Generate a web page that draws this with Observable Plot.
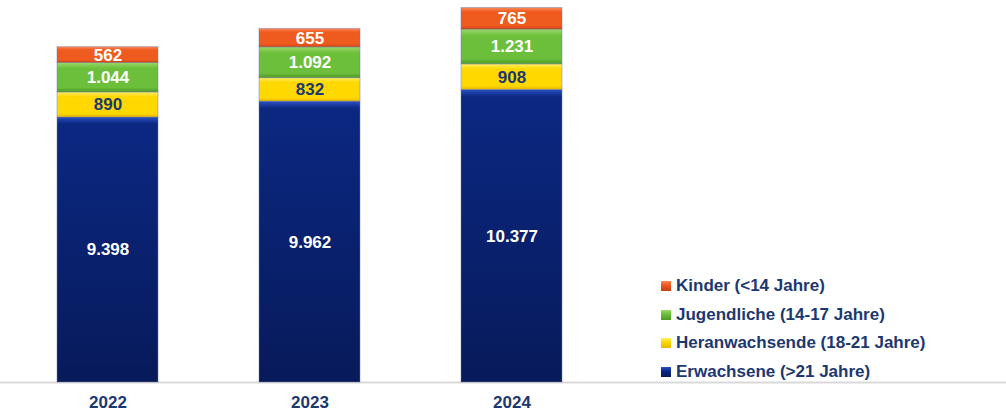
<!DOCTYPE html>
<html>
<head>
<meta charset="utf-8">
<script src="https://cdn.jsdelivr.net/npm/d3@7"></script>
<script src="https://cdn.jsdelivr.net/npm/@observablehq/plot@0.6"></script>
<style>
  html, body { margin: 0; padding: 0; background: #fff; }
  #wrap { position: relative; width: 1006px; height: 414px; font-family: "Liberation Sans", Arial, sans-serif; }
  #legend { position: absolute; left: 661px; top: 272px; color: #1c3870; font-weight: bold; font-size: 17px; }
  #legend .item { display: flex; align-items: center; height: 28.5px; white-space: nowrap; }
  #legend .sw { width: 10px; height: 10px; margin-right: 5px; box-sizing: border-box; }
</style>
</head>
<body>
<div id="wrap"><div id="legend"></div></div>
<script>
const years = ["2022", "2023", "2024"];
const seriesNames = ["Erwachsene (>21 Jahre)", "Heranwachsende (18-21 Jahre)", "Jugendliche (14-17 Jahre)", "Kinder (<14 Jahre)"];
const erwachsene = [9398, 9962, 10377];
const heranwachsende = [890, 832, 908];
const jugendliche = [1044, 1092, 1231];
const kinder = [562, 655, 765];
const seriesValues = [erwachsene, heranwachsende, jugendliche, kinder];
const seriesKeys = ["erw", "her", "jug", "kin"];
const gradStops = [
  ["#2a52c4", "#0b2882", "#071a5a"],
  ["#fff06a", "#ffd800", "#e8b800"],
  ["#9ad86a", "#6cbf3a", "#4e9a26"],
  ["#ff8a5a", "#ef5a1f", "#c9400f"]
];
const labelColors = ["#ffffff", "#1c3870", "#ffffff", "#ffffff"];

const data = [];
seriesNames.forEach((s, i) => {
  years.forEach((y, j) => {
    data.push({year: y, series: s, key: seriesKeys[i], value: seriesValues[i][j], fill: `url(#g-${seriesKeys[i]})`, label: labelColors[i]});
  });
});

const de = d3.formatLocale({decimal: ",", thousands: ".", grouping: [3], currency: ["", " €"]});
const fmt = de.format(",d");

const defs = () => {
  const d = d3.create("svg:defs");
  seriesKeys.forEach((k, i) => {
    const g = d.append("linearGradient").attr("id", `g-${k}`).attr("x1", 0).attr("y1", 0).attr("x2", 0).attr("y2", 1);
    const st = gradStops[i];
    if (k === "erw") {
      g.append("stop").attr("offset", 0).attr("stop-color", st[0]);
      g.append("stop").attr("offset", 0.025).attr("stop-color", st[1]);
      g.append("stop").attr("offset", 1).attr("stop-color", st[2]);
    } else {
      g.append("stop").attr("offset", 0).attr("stop-color", st[0]);
      g.append("stop").attr("offset", 0.2).attr("stop-color", st[1]);
      g.append("stop").attr("offset", 0.85).attr("stop-color", st[1]);
      g.append("stop").attr("offset", 1).attr("stop-color", st[2]);
    }
  });
  return d.node();
};

const chart = Plot.plot({
  width: 1006,
  height: 414,
  marginTop: 7,
  marginBottom: 32,
  marginLeft: 0,
  marginRight: 0,
  style: {fontFamily: "Liberation Sans, Arial, sans-serif", background: "transparent"},
  x: {domain: years, range: [56, 563], paddingInner: 0.5, paddingOuter: 0, label: null},
  y: {domain: [0, 13300], axis: null},
  color: {type: "identity"},
  marks: [
    defs,
    Plot.ruleY([0], {stroke: "#d9d9d9", strokeWidth: 2}),
    Plot.barY(data, {x: "year", y: "value", z: "series", fill: "fill", stroke: "rgba(110,120,160,0.45)", strokeWidth: 1}),
    Plot.text(data, Plot.stackY({x: "year", y: "value", z: "series", text: d => fmt(d.value), fill: "label", fontSize: 17, fontWeight: "bold"})),
    Plot.axisX({tickSize: 0, tickPadding: 13, fontSize: 17, fontWeight: "bold", color: "#1c3870", label: null})
  ]
});
document.getElementById("wrap").prepend(chart);

const legend = document.getElementById("legend");
[3, 2, 1, 0].forEach(i => {
  const it = document.createElement("div");
  it.className = "item";
  const sw = document.createElement("span");
  sw.className = "sw";
  sw.style.background = `linear-gradient(${gradStops[i][0]}, ${gradStops[i][1]} 40%, ${gradStops[i][2]})`;
  const tx = document.createElement("span");
  tx.textContent = seriesNames[i];
  it.appendChild(sw);
  it.appendChild(tx);
  legend.appendChild(it);
});
</script>
</body>
</html>
